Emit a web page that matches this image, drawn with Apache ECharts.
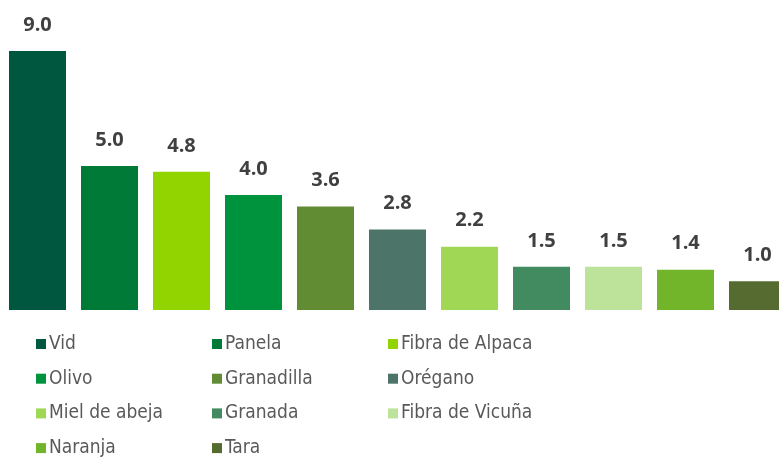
<!DOCTYPE html>
<html>
<head>
<meta charset="utf-8">
<script src="https://cdn.jsdelivr.net/npm/echarts@6/dist/echarts.min.js"></script>
<style>
* { margin: 0; padding: 0; }
body { overflow: hidden; }
#main { width: 800px; height: 457px; }
</style>
</head>
<body>
<div id="main"></div>
<script>
// productos y valores
var categories = ["Vid", "Panela", "Fibra de Alpaca", "Olivo", "Granadilla", "Orégano",
                  "Miel de abeja", "Granada", "Fibra de Vicuña", "Naranja", "Tara"];
var values = [9.0, 5.0, 4.8, 4.0, 3.6, 2.8, 2.2, 1.5, 1.5, 1.4, 1.0];
var colors = ["#00573f", "#007a37", "#92d400", "#00933d", "#628c34", "#4d7468",
              "#a0d755", "#428b61", "#bde29a", "#72b52b", "#556b2f"];

var chart = echarts.init(document.getElementById("main"));

var series = categories.map(function (name, i) {
  var data = categories.map(function (c, j) { return j === i ? values[i] : null; });
  return {
    name: name,
    type: "bar",
    stack: "total",
    barWidth: 57,
    itemStyle: { color: colors[i] },
    label: {
      show: true,
      position: "top",
      distance: 16,
      fontSize: 20,
      fontWeight: "bold",
      color: "#404040",
      fontFamily: "Open Sans",
      formatter: function (p) { return p.value.toFixed(1); }
    },
    data: data
  };
});

// leyenda en 3 columnas, una leyenda por item
var legends = categories.map(function (name, i) {
  var col = i % 3, row = Math.floor(i / 3);
  return {
    left: 31 + col * 176,
    top: 329 + row * 34.7,
    itemWidth: 10,
    itemHeight: 10,
    itemGap: 0,
    itemStyle: {},
    icon: "rect",
    textStyle: { fontSize: 19, color: "#595959", fontFamily: "Liberation Sans Narrow, DejaVu Sans Condensed, sans-serif", lineHeight: 20, padding: [0, 0, 0, -2] },
    data: [name]
  };
});

chart.setOption({
  animation: false,
  grid: { left: 1.5, right: 6.5, top: 51, bottom: 147 },
  xAxis: {
    type: "category",
    data: categories,
    show: false
  },
  yAxis: {
    type: "value",
    min: 0,
    max: 9,
    show: false
  },
  legend: legends,
  series: series
});
</script>
</body>
</html>
